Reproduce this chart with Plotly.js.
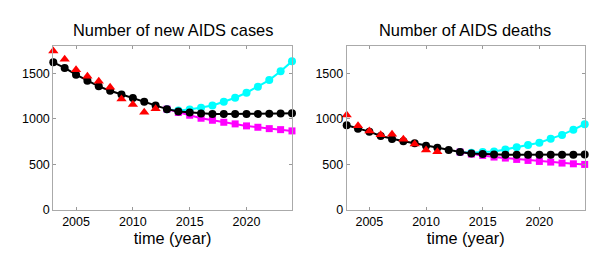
<!DOCTYPE html>
<html>
<head>
<meta charset="utf-8">
<script src="https://cdn.plot.ly/plotly-3.0.1.min.js"></script>
<style>html,body{margin:0;padding:0;background:#fff;}#chart{width:612px;height:259px;}</style>
</head>
<body>
<div id="chart"></div>
<script>
// Years
const yearsFit = [2003,2004,2005,2006,2007,2008,2009,2010,2011,2012,2013,2014,2015,2016,2017,2018,2019,2020,2021,2022,2023,2024];
const yearsProj = [2013,2014,2015,2016,2017,2018,2019,2020,2021,2022,2023,2024];
const yearsObsCases = [2003,2004,2005,2006,2007,2008,2009,2010,2011,2012];
const yearsObsDeaths = [2003,2004,2005,2006,2007,2008,2009,2010,2011];

// New AIDS cases
const casesObserved = [1746,1654,1540,1467,1412,1346,1217,1158,1074,1110];
const casesBaseline = [1621,1559,1485,1419,1357,1309,1268,1228,1188,1147,1107,1081,1070,1059,1055,1054,1054,1054,1055,1057,1060,1063];
const casesHigh = [1107,1092,1103,1121,1147,1188,1232,1287,1353,1426,1522,1632];
const casesLow = [1107,1070,1040,1007,985,963,945,923,908,893,882,868];

// AIDS deaths
const deathsObserved = [1044,926,868,827,831,776,724,658,640];
const deathsBaseline = [930,893,860,812,779,754,732,706,684,658,636,621,614,610,607,606,606,606,606,607,607,608];
const deathsHigh = [636,629,636,643,665,688,713,739,783,824,882,941];
const deathsLow = [636,614,599,581,570,555,544,533,526,515,507,500];

const yTicks = [0,500,1000,1500];
const xTicks = [2005,2010,2015,2020];

const FONT = 'Liberation Sans, Arial, sans-serif';

function series(x, y, color, symbol, size, xa, ya, withLine) {
  return {
    x: x, y: y, xaxis: xa, yaxis: ya, type: 'scatter',
    mode: withLine ? 'lines+markers' : 'markers',
    line: {color: color, width: 2},
    marker: {color: color, symbol: symbol, size: size, line: {width: 0}},
    cliponaxis: false, showlegend: false, hoverinfo: 'skip'
  };
}

const traces = [
  series(yearsProj, casesHigh, '#00ffff', 'circle', 8, 'x', 'y', true),
  series(yearsProj, casesLow, '#ff00ff', 'square', 7, 'x', 'y', true),
  series(yearsFit, casesBaseline, '#000000', 'circle', 8, 'x', 'y', true),
  series(yearsObsCases, casesObserved, '#ff0000', 'triangle-up', 9, 'x', 'y', false),
  series(yearsProj, deathsHigh, '#00ffff', 'circle', 8, 'x2', 'y2', true),
  series(yearsProj, deathsLow, '#ff00ff', 'square', 7, 'x2', 'y2', true),
  series(yearsFit, deathsBaseline, '#000000', 'circle', 8, 'x2', 'y2', true),
  series(yearsObsDeaths, deathsObserved, '#ff0000', 'triangle-up', 9, 'x2', 'y2', false)
];

function xaxis(domain, anchor) {
  return {
    domain: domain, anchor: anchor, range: [2003, 2024],
    tickmode: 'array', tickvals: xTicks, ticktext: xTicks.map(String),
    ticks: 'inside', ticklen: 3, tickcolor: '#999', tickwidth: 1,
    showline: true, linecolor: '#aaa', linewidth: 1, mirror: 'ticks',
    showgrid: false, zeroline: false,
    tickfont: {family: FONT, size: 12.5, color: '#000'},
    title: {text: 'time (year)', font: {family: FONT, size: 16.3, color: '#000'}, standoff: 4}
  };
}
function yaxis(anchor) {
  return {
    domain: [0.1892, 0.8224], anchor: anchor, range: [0, 1800],
    tickmode: 'array', tickvals: yTicks, ticktext: yTicks.map(String),
    ticks: 'inside', ticklen: 3, tickcolor: '#999', tickwidth: 1,
    showline: true, linecolor: '#aaa', linewidth: 1, mirror: 'ticks',
    showgrid: false, zeroline: false,
    tickfont: {family: FONT, size: 12.5, color: '#000'}
  };
}

const layout = {
  width: 612, height: 259,
  margin: {l: 0, r: 0, t: 0, b: 0},
  paper_bgcolor: '#fff', plot_bgcolor: '#fff',
  showlegend: false,
  xaxis: xaxis([0.0871, 0.4771], 'y'),
  yaxis: yaxis('x'),
  xaxis2: xaxis([0.5665, 0.9554], 'y2'),
  yaxis2: yaxis('x2'),
  annotations: [
    {text: 'Number of new AIDS cases', xref: 'paper', yref: 'paper', x: 172.5/612, y: 1 - 29.5/259,
     xanchor: 'center', yanchor: 'middle', showarrow: false, font: {family: FONT, size: 16.4, color: '#000'}},
    {text: 'Number of AIDS deaths', xref: 'paper', yref: 'paper', x: 465/612, y: 1 - 29.5/259,
     xanchor: 'center', yanchor: 'middle', showarrow: false, font: {family: FONT, size: 16.4, color: '#000'}}
  ]
};

Plotly.newPlot('chart', traces, layout, {staticPlot: true, displayModeBar: false});
</script>
</body>
</html>
